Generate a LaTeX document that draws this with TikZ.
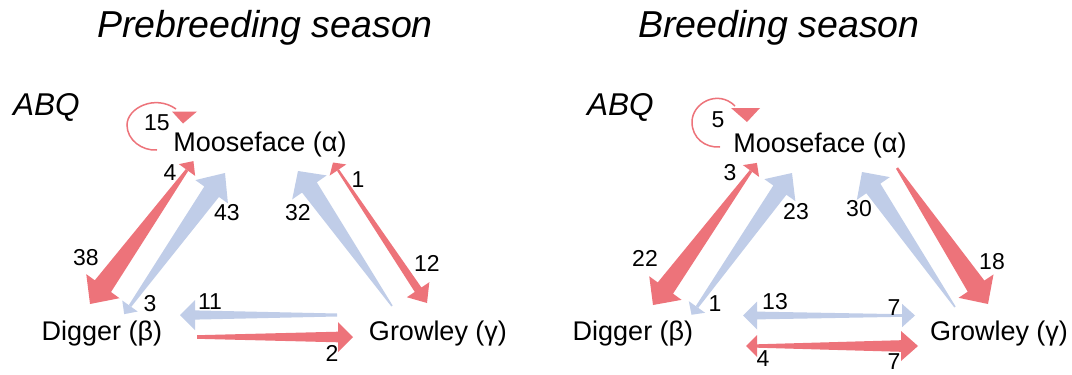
\documentclass[tikz,border=0pt]{standalone}
\usepackage{fontspec}
\setmainfont{Liberation Sans}
\usetikzlibrary{calc}

\definecolor{flowred}{RGB}{237,115,122}
\definecolor{flowblue}{RGB}{192,205,232}

% Tapered flow arrow: #1 colour, #2 tail, #3 tip,
% #4 half width at tail, #5 half width where the head starts,
% #6 head length, #7 head half width
\newcommand\taperarrow[7]{%
  \coordinate (hb) at ($(#3)!#6!(#2)$);
  \fill[#1] ($(#2)!#4!90:(#3)$) -- ($(hb)!#5!90:(#3)$) -- ($(hb)!#7!90:(#3)$)
    -- (#3) -- ($(hb)!#7!-90:(#3)$) -- ($(hb)!#5!-90:(#3)$) -- ($(#2)!#4!-90:(#3)$) -- cycle;}

% Small head at the thin end of a flow: #1 colour, #2 base centre,
% #3 point the flow runs to, #4 length, #5 half width
\newcommand\backhead[5]{%
  \fill[#1] ($(#2)!#5!90:(#3)$) -- ($(#2)!#4!180:(#3)$) -- ($(#2)!#5!-90:(#3)$) -- cycle;}

\tikzset{
  lbl/.style={font=\fontsize{23}{23}\selectfont, inner sep=0pt},
  who/.style={font=\fontsize{27}{27}\selectfont, inner sep=0pt, anchor=base},
  season/.style={font=\itshape\fontsize{37.5}{37.5}\selectfont, inner sep=0pt, anchor=base},
  site/.style={font=\itshape\fontsize{31.5}{31.5}\selectfont, inner sep=0pt, anchor=base west},
  loopline/.style={draw=flowred, line width=1.5pt}
}

\begin{document}
\begin{tikzpicture}[x=1pt, y=-1pt]
\useasboundingbox (0,0) rectangle (1072,375);
\fill[white] (0,0) rectangle (1072,375);

% ---------------- titles ----------------
\node[season] (tpre) at (265,37.5) {Prebreeding season};
\node[season] (tbre) at (779,37.5) {Breeding season};
\node[site] (abq1) at (13,115) {ABQ};
\node[site] (abq2) at (587,115) {ABQ};

% ---------------- individuals ----------------
\node[who] (moose1) at (260,151) {Mooseface (α)};
\node[who] (digger1) at (102,340) {Digger (β)};
\node[who] (growl1) at (438,340) {Growley (γ)};
\node[who] (moose2) at (820,152) {Mooseface (α)};
\node[who] (digger2) at (633,340) {Digger (β)};
\node[who] (growl2) at (999,340) {Growley (γ)};

% ---------------- prebreeding flows ----------------
\coordinate (mdAt) at (187,170);  \coordinate (mdAp) at (90,304);
\coordinate (dmAt) at (130,306);  \coordinate (dmAp) at (225,173);
\coordinate (gmAt) at (392,306);  \coordinate (gmAp) at (298,171);
\coordinate (mgAt) at (338,170);  \coordinate (mgAp) at (427,303);
\coordinate (gdAt) at (337,315);  \coordinate (gdAp) at (180,315);
\coordinate (dgAt) at (197,337);  \coordinate (dgAp) at (353,337);

\taperarrow{flowred}{mdAt}{mdAp}{1.5pt}{10pt}{22pt}{20.5pt}
\backhead{flowred}{mdAt}{mdAp}{11pt}{10pt}
\taperarrow{flowblue}{dmAt}{dmAp}{1.5pt}{9pt}{23pt}{20pt}
\backhead{flowblue}{dmAt}{dmAp}{10pt}{9.5pt}
\taperarrow{flowblue}{gmAt}{gmAp}{0.8pt}{9pt}{20pt}{21pt}
\taperarrow{flowred}{mgAt}{mgAp}{1.2pt}{4pt}{16pt}{13.5pt}
\backhead{flowred}{mgAt}{mgAp}{9pt}{10pt}
\taperarrow{flowblue}{gdAt}{gdAp}{1.5pt}{4.6pt}{15pt}{15pt}
\taperarrow{flowred}{dgAt}{dgAp}{1.8pt}{5.3pt}{15pt}{15pt}

% self loop of Mooseface
\draw[loopline] (157,150) .. controls (142,151) and (127,140) .. (127,125)
  .. controls (127,108) and (155,94) .. (176,109);
\fill[flowred] (172,111.5) -- (197,111.5) -- (183,123.5) -- cycle;

\node[lbl] (n15) at (157,123) {15};
\node[lbl] (n4a) at (170,173) {4};
\node[lbl] (n43) at (227,213) {43};
\node[lbl] (n38) at (86,258) {38};
\node[lbl] (n3a) at (150,304) {3};
\node[lbl] (n11) at (210,302) {11};
\node[lbl] (n32) at (298,213) {32};
\node[lbl] (n1a) at (358,180) {1};
\node[lbl] (n12) at (427,263) {12};
\node[lbl] (n2) at (332,353) {2};

% ---------------- breeding flows ----------------
\coordinate (mdBt) at (751,171);  \coordinate (mdBp) at (653,305);
\coordinate (dmBt) at (697,307);  \coordinate (dmBp) at (792,173);
\coordinate (gmBt) at (955,307);  \coordinate (gmBp) at (862,172);
\coordinate (mgBt) at (897,168);  \coordinate (mgBp) at (988,304);
\coordinate (gdBt) at (902,315.5); \coordinate (gdBp) at (743,315.5);
\coordinate (dgBt) at (757,346);  \coordinate (dgBp) at (918,346);

\taperarrow{flowred}{mdBt}{mdBp}{1.5pt}{9.5pt}{21pt}{20pt}
\backhead{flowred}{mdBt}{mdBp}{10pt}{10pt}
\taperarrow{flowblue}{dmBt}{dmBp}{1.5pt}{8pt}{21pt}{19pt}
\backhead{flowblue}{dmBt}{dmBp}{9.5pt}{10pt}
\taperarrow{flowblue}{gmBt}{gmBp}{0.8pt}{8.5pt}{20pt}{20pt}
\taperarrow{flowred}{mgBt}{mgBp}{1.2pt}{10pt}{21.5pt}{21pt}
\taperarrow{flowblue}{gdBt}{gdBp}{1.3pt}{3.9pt}{14pt}{14pt}
\backhead{flowblue}{gdBt}{gdBp}{13pt}{11.7pt}
\taperarrow{flowred}{dgBt}{dgBp}{1.7pt}{5.8pt}{17pt}{15pt}
\backhead{flowred}{dgBt}{dgBp}{11pt}{11pt}

% self loop of Mooseface
\draw[loopline] (720,147) .. controls (705,148) and (692,138) .. (692,122)
  .. controls (692,103) and (718,89) .. (735,106);
\fill[flowred] (731,108) -- (760,108) -- (747,122) -- cycle;

\node[lbl] (n5) at (718,120) {5};
\node[lbl] (n3b) at (730,173) {3};
\node[lbl] (n23) at (796,212) {23};
\node[lbl] (n22) at (645,258) {22};
\node[lbl] (n1b) at (715,304) {1};
\node[lbl] (n13) at (775,302) {13};
\node[lbl] (n30) at (859,209) {30};
\node[lbl] (n18) at (992,262) {18};
\node[lbl] (n7a) at (894,308) {7};
\node[lbl] (n4b) at (763,359) {4};
\node[lbl] (n7b) at (894,362) {7};
\end{tikzpicture}
\end{document}
